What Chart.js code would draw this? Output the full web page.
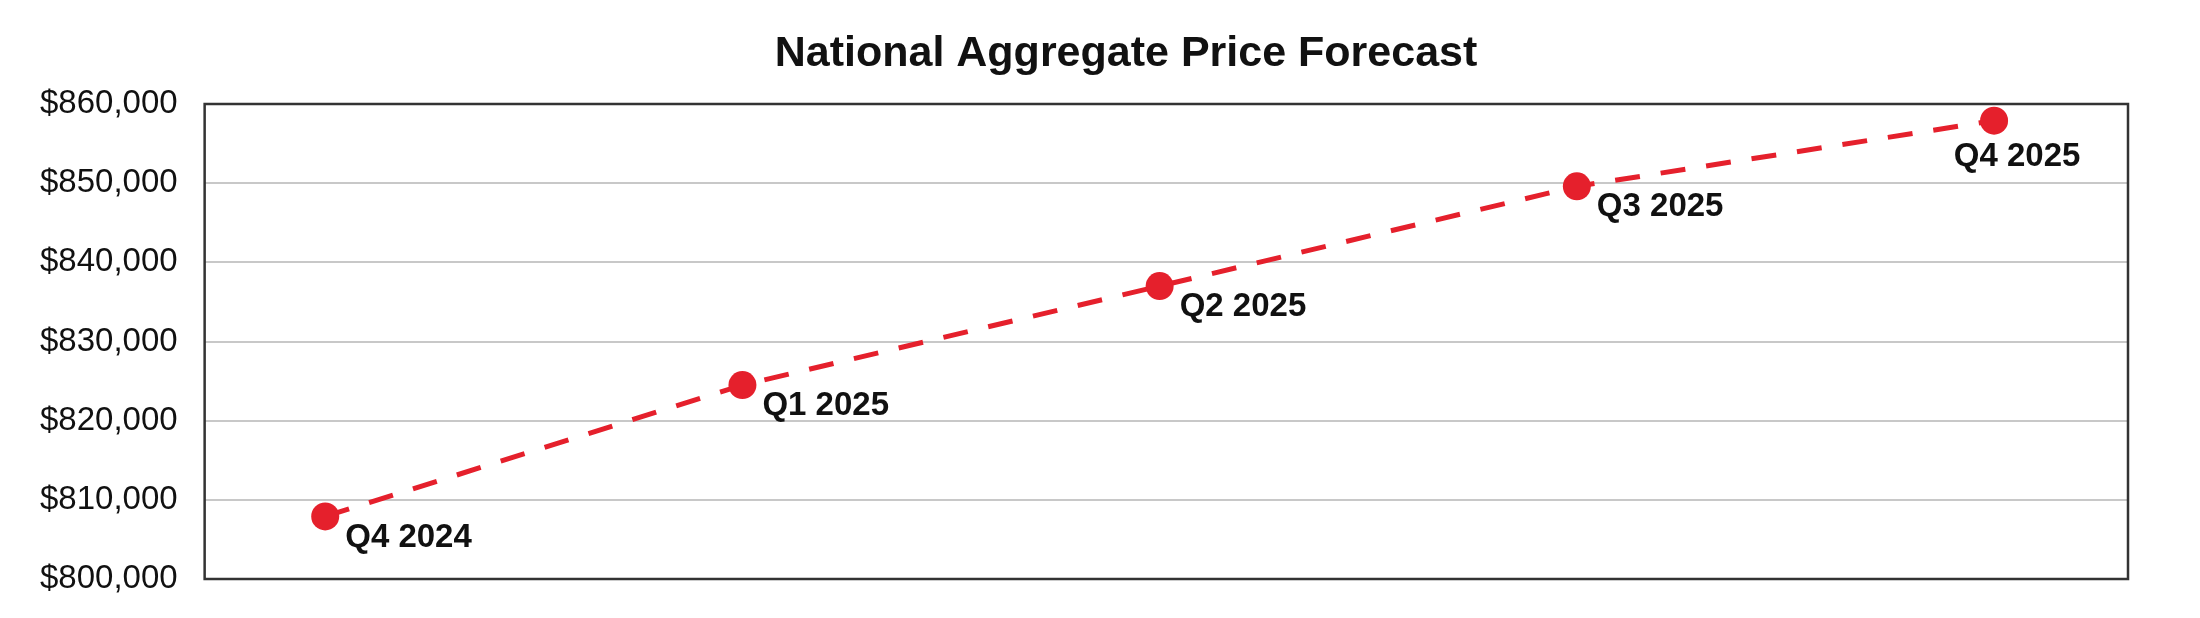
<!DOCTYPE html>
<html>
<head>
<meta charset="utf-8">
<script src="https://cdn.jsdelivr.net/npm/chart.js@4.4.1/dist/chart.umd.min.js"></script>
<style>
    html, body { margin: 0; padding: 0; background: #fff; }
    #wrap { width: 2200px; height: 618px; }
</style>
</head>
<body>
<div id="wrap"><canvas id="forecastChart"></canvas></div>
<script>
const quarters = ["Q4 2024", "Q1 2025", "Q2 2025", "Q3 2025", "Q4 2025"];
const prices = [807900, 824500, 837000, 849600, 857900];
const yTicks = [800000, 810000, 820000, 830000, 840000, 850000, 860000];
const chartTitle = "National Aggregate Price Forecast";

const red = "#e5202c";
const fontFamily = "'Liberation Sans', Arial, Helvetica, sans-serif";

// Title, a bit right of the canvas centre like the original
const titlePlugin = {
    id: "titleText",
    afterDraw(chart) {
        const { ctx } = chart;
        ctx.save();
        ctx.font = "bold 43px " + fontFamily;
        ctx.fillStyle = "#111";
        ctx.textAlign = "center";
        ctx.textBaseline = "middle";
        ctx.fillText(chartTitle, chart.width / 2 + 26, 54);
        ctx.restore();
    }
};

// Frame around the plot area
const framePlugin = {
    id: "frame",
    afterDraw(chart) {
        const { ctx, chartArea } = chart;
        ctx.save();
        ctx.strokeStyle = "#333";
        ctx.lineWidth = 2.5;
        ctx.strokeRect(chartArea.left, chartArea.top, chartArea.right - chartArea.left, chartArea.bottom - chartArea.top);
        ctx.restore();
    }
};

// Quarter label next to each point
const pointLabels = {
    id: "pointLabels",
    afterDatasetsDraw(chart) {
        const { ctx, chartArea } = chart;
        const meta = chart.getDatasetMeta(0);
        ctx.save();
        ctx.font = "bold 33px " + fontFamily;
        ctx.fillStyle = "#111";
        ctx.textBaseline = "middle";
        meta.data.forEach((pt, i) => {
            const text = quarters[i];
            const w = ctx.measureText(text).width;
            if (pt.x + 20 + w > chartArea.right - 10) {
                ctx.textAlign = "center";
                ctx.fillText(text, pt.x + 23, pt.y + 36);
            } else {
                ctx.textAlign = "left";
                ctx.fillText(text, pt.x + 20, pt.y + 21);
            }
        });
        ctx.restore();
    }
};

new Chart(document.getElementById("forecastChart"), {
    type: "line",
    data: {
        datasets: [{
            label: "National Aggregate Price",
            data: prices.map((v, i) => ({ x: i, y: v })),
            borderColor: red,
            borderWidth: 5,
            borderDash: [25, 21],
            backgroundColor: red,
            pointBackgroundColor: red,
            pointBorderWidth: 0,
            pointRadius: 14,
            tension: 0,
            fill: false
        }]
    },
    options: {
        responsive: true,
        maintainAspectRatio: false,
        animation: false,
        devicePixelRatio: 1,
        layout: { padding: { left: 37, right: 72, top: 104, bottom: 39 } },
        plugins: {
            legend: { display: false },
            tooltip: { enabled: false },
            title: { display: false }
        },
        scales: {
            x: {
                type: "linear",
                min: -0.289,
                max: 4.321,
                display: false
            },
            y: {
                min: yTicks[0],
                max: yTicks[yTicks.length - 1],
                afterBuildTicks(scale) {
                    scale.ticks = yTicks.map(v => ({ value: v }));
                },
                border: { display: false },
                grid: { color: "#c8c8c8", lineWidth: 2, drawTicks: true, tickLength: 24, tickColor: "rgba(0,0,0,0)" },
                ticks: {
                    padding: 3,
                    color: "#111",
                    font: { family: fontFamily, size: 33 },
                    callback: v => "$" + v.toLocaleString("en-US")
                }
            }
        }
    },
    plugins: [framePlugin, pointLabels, titlePlugin]
});
</script>
</body>
</html>
